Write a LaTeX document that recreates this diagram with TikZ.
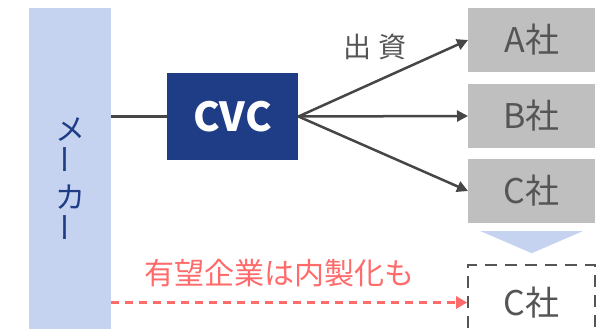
\documentclass[tikz,border=0pt]{standalone}
\usepackage{fontspec}
\setmainfont{Noto Sans CJK JP}
\usepackage{graphicx}
\usetikzlibrary{calc}
\usetikzlibrary{positioning}
\usetikzlibrary{arrows.meta}
\definecolor{makerBlue}{HTML}{C5D3F1}
\definecolor{cvcBlue}{HTML}{1F3D87}
\definecolor{boxGray}{HTML}{BFBFBF}
\definecolor{textGray}{HTML}{555555}
\definecolor{lineGray}{HTML}{464646}
\definecolor{softRed}{HTML}{FF6B6B}
\tikzstyle{compnode} = [rectangle, minimum width=127pt, minimum height=64pt, inner sep=0pt, text=textGray, font=\fontsize{34}{36}\selectfont]
\tikzstyle{colorComp} = [fill=boxGray]
\tikzstyle{colorMaker} = [fill=makerBlue]
\tikzstyle{invest} = [draw=lineGray, line width=2.5pt, -{Triangle[length=11pt,width=11pt]}]
\tikzstyle{inhouse} = [draw=softRed, line width=2.5pt, dash pattern=on 8pt off 6pt, -{Triangle[length=11pt,width=12pt]}]
\begin{document}
\begin{tikzpicture}[x=1pt,y=1pt]
    \useasboundingbox (0,0) rectangle (605,-329);
    \node[colorMaker, minimum width=82pt, minimum height=340pt, inner sep=0pt] (maker) at (70,-178) {};
    \node[text=cvcBlue, align=center, font=\fontsize{30}{34}\selectfont] (maker_label) at ($(maker.north)+(0,-172)$)
{メ\\\rotatebox{90}{ー}\\カ\\\rotatebox{90}{ー}};
    \node[fill=cvcBlue, text=white, font=\bfseries\fontsize{40}{44}\selectfont, minimum width=131pt, minimum height=87pt, inner sep=0pt] (cvc) at ($(maker.east)+(121.5,61.5)$) {CVC};

    \node[compnode, colorComp] (comp_a) at ($(cvc)+(299,76.5)$) {A社};
    \node[compnode, colorComp] (comp_b) at ($(comp_a)+(0,-76)$) {B社};
    \node[compnode, colorComp] (comp_c) at ($(comp_b)+(0,-75)$) {C社};
    \node[compnode, draw=textGray, line width=2pt, dash pattern=on 12pt off 8pt, minimum height=75pt] (inhouse_c) at ($(comp_c)+(0,-111.5)$) {C社};

    \draw[draw=lineGray, line width=2.5pt] (maker.east |- cvc.west) -- (cvc.west);
    \draw[invest] (cvc.east) -- (comp_a.west);
    \draw[invest] (cvc.east) -- (comp_b.west);
    \draw[invest] (cvc.east) -- (comp_c.west);
    \node[text=textGray, font=\fontsize{28}{30}\selectfont] (invest_label) at ($(comp_a.west)+(-93,-7)$) {出 資};

    \coordinate (tri_l) at ($(comp_c.south)+(-51,-8)$);
    \coordinate (tri_r) at ($(comp_c.south)+(51,-8)$);
    \coordinate (tri_b) at ($(comp_c.south)+(0,-30)$);
    \fill[makerBlue] (tri_l) -- (tri_r) -- (tri_b) -- cycle;

    \draw[inhouse] (maker.east |- inhouse_c.west) -- (inhouse_c.west);
    \node[text=softRed, font=\fontsize{30}{32}\selectfont] (inhouse_label) at ($(maker.east |- inhouse_c)+(168,29)$) {有望企業は内製化も};
\end{tikzpicture}
\end{document}
